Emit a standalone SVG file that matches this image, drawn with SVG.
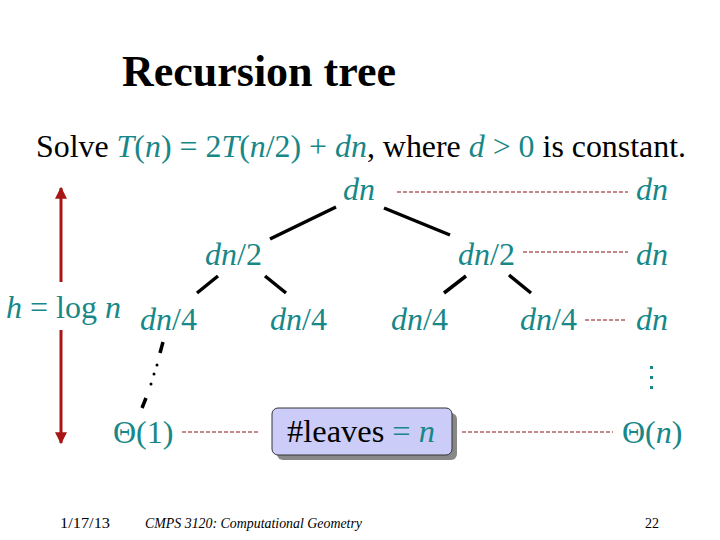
<svg xmlns="http://www.w3.org/2000/svg" width="720" height="540" viewBox="0 0 720 540">
<defs>
<style>
text{font-family:"Liberation Serif","Times New Roman",serif}
.t{fill:#178787;font-size:32px}
.i{font-style:italic}
.tree{stroke:#000;stroke-width:3.5;fill:none}
.dash{stroke:#8b1010;stroke-width:1;stroke-dasharray:4 2;fill:none}
.foot{font-size:14px;fill:#000}
</style>
<marker id="ah" viewBox="0 0 10 10" refX="9" refY="5" markerWidth="4" markerHeight="4" orient="auto-start-reverse"><path d="M0,0 L10,5 L0,10 z" fill="#a81515"/></marker>
</defs>
<rect width="720" height="540" fill="#fff"/>
<text x="122" y="86" font-size="44" font-weight="bold" textLength="274" lengthAdjust="spacingAndGlyphs">Recursion tree</text>
<text x="36" y="157" font-size="32" textLength="650" lengthAdjust="spacingAndGlyphs"><tspan>Solve </tspan><tspan class="t"><tspan class="i">T</tspan>(<tspan class="i">n</tspan>) = 2<tspan class="i">T</tspan>(<tspan class="i">n</tspan>/2) + <tspan class="i">dn</tspan></tspan>, where <tspan class="t i">d</tspan><tspan class="t"> &gt; 0</tspan> is constant.</text>

<g id="connectors">
<line class="tree" x1="336" y1="207" x2="270" y2="239"/>
<line class="tree" x1="384" y1="208" x2="450" y2="235"/>
<line class="tree" x1="218" y1="276" x2="197" y2="293"/>
<line class="tree" x1="265" y1="276" x2="286" y2="293"/>
<line class="tree" x1="466" y1="276" x2="444" y2="293"/>
<line class="tree" x1="509" y1="275" x2="531" y2="293"/>
<line class="tree" x1="163" y1="342" x2="160" y2="353" stroke-width="2.5"/>
<line class="tree" x1="146" y1="398" x2="142" y2="408" stroke-width="2.5"/>
<circle cx="157" cy="365" r="1.5"/>
<circle cx="154" cy="374" r="1.5"/>
<circle cx="151" cy="384" r="1.5"/>
<line class="dash" x1="397" y1="192" x2="628" y2="192"/>
<line class="dash" x1="523" y1="252" x2="628" y2="252"/>
<line class="dash" x1="585" y1="320" x2="627" y2="320"/>
<line class="dash" x1="182" y1="432" x2="260" y2="432"/>
<line class="dash" x1="462" y1="432" x2="613" y2="432"/>
<line x1="61" y1="282" x2="61" y2="188" stroke="#a81515" stroke-width="3" marker-end="url(#ah)"/>
<line x1="61" y1="330" x2="61" y2="443" stroke="#a81515" stroke-width="3" marker-end="url(#ah)"/>
</g>

<g id="root"><text class="t i" x="343" y="200">dn</text></g>
<g id="sum1"><text class="t i" x="636" y="200">dn</text></g>
<g id="n2a"><text class="t" x="205" y="265"><tspan class="i">dn</tspan>/2</text></g>
<g id="n2b"><text class="t" x="458" y="265"><tspan class="i">dn</tspan>/2</text></g>
<g id="sum2"><text class="t i" x="636" y="265">dn</text></g>
<g id="hlabel"><text class="t" x="6" y="318"><tspan class="i">h</tspan> = log <tspan class="i">n</tspan></text></g>
<g id="n4a"><text class="t" x="140" y="330"><tspan class="i">dn</tspan>/4</text></g>
<g id="n4b"><text class="t" x="270" y="330"><tspan class="i">dn</tspan>/4</text></g>
<g id="n4c"><text class="t" x="391" y="330"><tspan class="i">dn</tspan>/4</text></g>
<g id="n4d"><text class="t" x="520" y="330"><tspan class="i">dn</tspan>/4</text></g>
<g id="sum3"><text class="t i" x="636" y="330">dn</text></g>
<g id="vdots" fill="#178787"><rect x="650" y="366" width="3" height="3"/><rect x="650" y="376" width="3" height="3"/><rect x="650" y="386" width="3" height="3"/></g>
<g id="leaf"><text class="t" x="113" y="443">Θ(1)</text></g>
<g id="leavesbox">
<rect x="277" y="413" width="180" height="47" rx="6" fill="#888"/>
<rect x="272" y="408" width="180" height="47" rx="6" fill="#ccccf8" stroke="#333" stroke-width="1"/>
<text x="287" y="442" font-size="32" textLength="148" lengthAdjust="spacingAndGlyphs"><tspan>#leaves </tspan><tspan class="t">= <tspan class="i">n</tspan></tspan></text>
</g>
<g id="total"><text class="t" x="622" y="443">Θ(<tspan class="i">n</tspan>)</text></g>

<text class="foot" x="60" y="528" textLength="50" lengthAdjust="spacingAndGlyphs">1/17/13</text>
<text class="foot i" x="145" y="528" textLength="217" lengthAdjust="spacingAndGlyphs">CMPS 3120: Computational Geometry</text>
<text class="foot" x="645" y="528">22</text>
</svg>
